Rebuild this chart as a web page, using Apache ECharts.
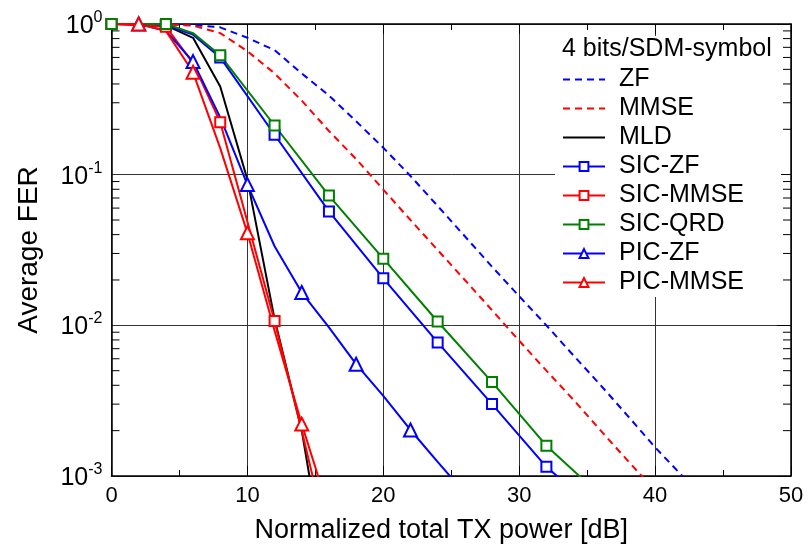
<!DOCTYPE html>
<html><head><meta charset="utf-8">
<script src="https://cdn.jsdelivr.net/npm/echarts@6/dist/echarts.min.js"></script>
<style>html,body{margin:0;padding:0;background:#fff}#c{width:810px;height:549px}</style>
</head><body><div id="c"></div>
<script>
// ---- axis / label data ----
const xMin = 0, xMax = 50, xStep = 10;
const yMin = 0.001, yMax = 1;
const yDecades = [-3, -2, -1];
const xAxisTitle = 'Normalized total TX power [dB]';
const yAxisTitle = 'Average FER';
const legendTitle = '4 bits/SDM-symbol';
const seriesNames = ['ZF', 'MMSE', 'MLD', 'SIC-ZF', 'SIC-MMSE', 'SIC-QRD', 'PIC-ZF', 'PIC-MMSE'];
const noMarkerNames = ['ZF', 'MMSE', 'MLD'];

// ---- series data ----
const zfX = [0, 2, 4, 6, 8, 10, 12, 14, 16, 18, 20, 22, 24, 26, 28, 30, 32, 34, 36, 38, 40, 42];
const zfY = [1, 1, 0.995, 0.985, 0.95, 0.81, 0.67, 0.47, 0.335, 0.226, 0.151, 0.098, 0.062, 0.039, 0.0245, 0.0156, 0.0100, 0.0063, 0.0040, 0.0025, 0.00155, 0.00100];

const mmseX = [0, 2, 4, 6, 8, 10, 12, 14, 16, 18, 20, 22, 24, 26, 28, 30, 32, 34, 36, 38, 40];
const mmseY = [1, 1, 0.995, 0.975, 0.87, 0.66, 0.47, 0.31, 0.195, 0.127, 0.0796, 0.050, 0.0316, 0.020, 0.0126, 0.0079, 0.0050, 0.0032, 0.0020, 0.00126, 0.0008];

const mldX = [0, 2, 4, 6, 8, 10, 12, 14, 16];
const mldY = [1, 1, 0.98, 0.81, 0.385, 0.093, 0.011, 0.0020, 0.00017];

const sicZfX = [0, 4, 6, 8, 12, 16, 20, 24, 28, 32, 36];
const sicZfY = [1, 0.98, 0.85, 0.60, 0.184, 0.057, 0.0205, 0.0077, 0.0030, 0.00115, 0.00056];
const sicZfMarks = [0, 4, 8, 12, 16, 20, 24, 28, 32];

const sicMmseX = [0, 4, 6, 8, 12, 14, 16];
const sicMmseY = [1, 0.96, 0.55, 0.223, 0.0107, 0.0020, 0.00035];
const sicMmseMarks = [0, 4, 8, 12];

const sicQrdX = [0, 4, 6, 8, 12, 16, 20, 24, 28, 32, 36];
const sicQrdY = [1, 1, 0.87, 0.62, 0.212, 0.0726, 0.0277, 0.0106, 0.0042, 0.00159, 0.00074];
const sicQrdMarks = [0, 4, 8, 12, 16, 20, 24, 28, 32];

const picZfX = [0, 2, 4, 6, 8, 10, 12, 14, 16, 18, 20, 22, 24, 26];
const picZfY = [1, 1, 0.9, 0.563, 0.24, 0.0859, 0.0335, 0.0165, 0.0097, 0.00552, 0.0034, 0.00202, 0.00124, 0.00077];
const picZfMarks = [2, 6, 10, 14, 18, 22];

const picMmseX = [0, 2, 4, 6, 8, 10, 12, 14, 16];
const picMmseY = [1, 1, 0.9, 0.478, 0.15, 0.0411, 0.0092, 0.00221, 0.00059];
const picMmseMarks = [2, 6, 10, 14];

// ---- helpers ----
const FONT = '"Liberation Sans", Arial, sans-serif';
function pts(xs, ys, marks) {
  return xs.map((x, i) => (marks && marks.indexOf(x) === -1)
    ? { value: [x, ys[i]], symbol: 'none' }
    : [x, ys[i]]);
}
function lineSeries(name, xs, ys, color, opts) {
  opts = opts || {};
  return {
    name: name, type: 'line',
    data: pts(xs, ys, opts.marks),
    symbol: opts.symbol || 'none',
    symbolSize: opts.symbolSize || 10,
    showSymbol: !!opts.symbol,
    color: color,
    lineStyle: { color: color, width: 2, type: opts.dashed ? [7, 5] : 'solid' },
    itemStyle: { color: color, borderWidth: 2 },
    clip: true,
    silent: true,
    z: 2
  };
}
const yMinor = [];
yDecades.forEach(e => { for (let m = 2; m <= 9; m++) yMinor.push([xMin, m * Math.pow(10, e)]); });

const legendData = seriesNames.map(n => noMarkerNames.indexOf(n) > -1
  ? { name: n, itemStyle: { opacity: 0 } }
  : { name: n });

const chart = echarts.init(document.getElementById('c'), null, { renderer: 'canvas' });
const axisLineStyle = { color: '#000', width: 1.5 };
const gridLineStyle = { color: '#333', width: 1 };

chart.setOption({
  animation: false,
  backgroundColor: '#fff',
  textStyle: { fontFamily: FONT, color: '#000' },
  grid: { left: 111.5, right: 19, top: 24, bottom: 72 },
  title: {
    text: legendTitle, left: 557, top: 32,
    textStyle: { fontSize: 25, fontWeight: 'normal', color: '#000', fontFamily: FONT }
  },
  legend: {
    orient: 'vertical', left: 555, top: 36,
    data: legendData,
    itemWidth: 42, itemHeight: 11, itemGap: 4,
    backgroundColor: '#fff',
    padding: [31, 37, 2, 7],
    selectedMode: false,
    textStyle: { fontSize: 25, color: '#000', lineHeight: 24, fontFamily: FONT, padding: [0, 0, 0, 9] }
  },
  xAxis: [{
    type: 'value', min: xMin, max: xMax, interval: xStep, position: 'bottom',
    axisLine: { show: true, onZero: false, lineStyle: axisLineStyle },
    axisTick: { show: true, inside: true, length: 10, lineStyle: { color: '#000' } },
    minorTick: { show: true, splitNumber: 2, length: 6, lineStyle: { color: '#000' } },
    splitLine: { show: true, lineStyle: gridLineStyle },
    axisLabel: { fontSize: 22, margin: 9, color: '#000', fontFamily: FONT },
    name: xAxisTitle, nameLocation: 'middle', nameGap: 41,
    nameTextStyle: { fontSize: 27, color: '#000', fontFamily: FONT, padding: [0, 20, 0, 0] }
  }, {
    type: 'value', min: xMin, max: xMax, interval: xStep, position: 'top',
    axisLine: { show: true, onZero: false, lineStyle: axisLineStyle },
    axisTick: { show: true, inside: true, length: 10, lineStyle: { color: '#000' } },
    minorTick: { show: true, splitNumber: 2, length: 6, lineStyle: { color: '#000' } },
    splitLine: { show: false }, axisLabel: { show: false }
  }],
  yAxis: [{
    type: 'log', logBase: 10, min: yMin, max: yMax, position: 'left',
    axisLine: { show: true, onZero: false, lineStyle: axisLineStyle },
    axisTick: { show: false },
    splitLine: { show: true, lineStyle: gridLineStyle },
    axisLabel: {
      margin: 9,
      formatter: v => '{b|10}{s|' + Math.round(Math.log10(v)) + '}',
      rich: {
        b: { fontSize: 25, color: '#000', fontFamily: FONT, verticalAlign: 'bottom' },
        s: { fontSize: 16, color: '#000', fontFamily: FONT, verticalAlign: 'bottom', padding: [0, 0, 13, 0] }
      }
    },
    name: yAxisTitle, nameLocation: 'middle', nameGap: 68,
    nameTextStyle: { fontSize: 28, color: '#000', fontFamily: FONT }
  }, {
    type: 'log', logBase: 10, min: yMin, max: yMax, position: 'right',
    axisLine: { show: true, onZero: false, lineStyle: axisLineStyle },
    axisTick: { show: true, inside: true, length: 14, lineStyle: { color: '#000' } },
    splitLine: { show: false }, axisLabel: { show: false }
  }],
  series: [
    lineSeries('ZF', zfX, zfY, '#0000ff', { dashed: true }),
    lineSeries('MMSE', mmseX, mmseY, '#ff0000', { dashed: true }),
    lineSeries('MLD', mldX, mldY, '#000000', {}),
    lineSeries('SIC-ZF', sicZfX, sicZfY, '#0000ff', { symbol: 'emptyRect', marks: sicZfMarks, symbolSize: 10 }),
    lineSeries('SIC-MMSE', sicMmseX, sicMmseY, '#ff0000', { symbol: 'emptyRect', marks: sicMmseMarks, symbolSize: 10 }),
    lineSeries('SIC-QRD', sicQrdX, sicQrdY, '#008000', { symbol: 'emptyRect', marks: sicQrdMarks, symbolSize: 10 }),
    lineSeries('PIC-ZF', picZfX, picZfY, '#0000ff', { symbol: 'emptyTriangle', marks: picZfMarks, symbolSize: 13 }),
    lineSeries('PIC-MMSE', picMmseX, picMmseY, '#ff0000', { symbol: 'emptyTriangle', marks: picMmseMarks, symbolSize: 13 }),
    {
      type: 'custom', silent: true, z: 3,
      data: yMinor,
      renderItem: function (params, api) {
        const v = api.value(1);
        const l = api.coord([xMin, v]);
        const r = api.coord([xMax, v]);
        return {
          type: 'group', children: [
            { type: 'line', shape: { x1: l[0], y1: l[1], x2: l[0] + 8, y2: l[1] }, style: { stroke: '#000', lineWidth: 1 } },
            { type: 'line', shape: { x1: r[0] - 8, y1: r[1], x2: r[0], y2: r[1] }, style: { stroke: '#000', lineWidth: 1 } }
          ]
        };
      }
    }
  ]
});
</script>
</body></html>
